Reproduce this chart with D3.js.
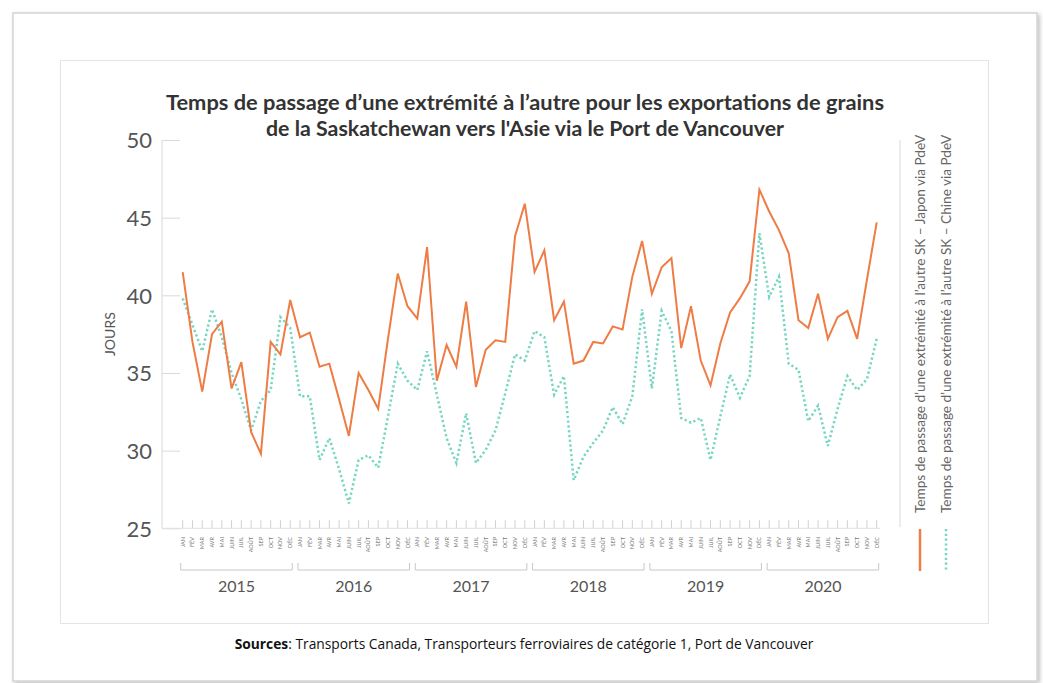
<!DOCTYPE html>
<html>
<head>
<meta charset="utf-8">
<script src="https://cdn.jsdelivr.net/npm/d3@7"></script>
<style>
	body { margin: 0; background: #fff; }
	#chart { width: 1043px; height: 683px; }
	text { font-family: Lato, "Open Sans", sans-serif; }
</style>
</head>
<body>
<div id="chart"></div>
<script>
// data
const years = ["2015", "2016", "2017", "2018", "2019", "2020"];
const months = ["JAN", "FÉV", "MAR", "AVR", "MAI", "JUIN", "JUIL", "AOÛT", "SEP", "OCT", "NOV", "DÉC"];
const yTicks = [25, 30, 35, 40, 45, 50];
const japon = [
	41.5, 37.0, 33.8, 37.5, 38.3, 34.0, 35.7, 31.2, 29.8, 37.0, 36.2, 39.7,
	37.3, 37.6, 35.4, 35.6, 33.3, 30.95, 35.0, 33.9, 32.7, 37.2, 41.4, 39.3,
	38.5, 43.1, 34.5, 36.8, 35.4, 39.6, 34.1, 36.5, 37.1, 37.0, 43.8, 45.9,
	41.5, 42.9, 38.4, 39.6, 35.6, 35.8, 37.0, 36.9, 38.0, 37.8, 41.2, 43.5,
	40.1, 41.8, 42.4, 36.6, 39.3, 35.8, 34.2, 36.9, 38.9, 39.8, 40.9, 46.8,
	45.4, 44.2, 42.7, 38.4, 37.9, 40.1, 37.2, 38.6, 39.0, 37.2, 41.0, 44.7
];
const chine = [
	39.8, 38.1, 36.4, 39.1, 37.3, 35.0, 33.3, 31.3, 33.2, 33.9, 38.6, 37.9,
	33.5, 33.5, 29.4, 30.8, 28.8, 26.6, 29.4, 29.7, 28.9, 32.2, 35.6, 34.5,
	33.9, 36.4, 33.6, 30.8, 29.2, 32.4, 29.2, 30.05, 31.3, 33.7, 36.2, 35.8,
	37.7, 37.3, 33.6, 34.8, 28.1, 29.6, 30.5, 31.3, 32.8, 31.7, 33.5, 39.1,
	34.0, 39.0, 37.7, 32.1, 31.8, 32.1, 29.4, 32.2, 34.9, 33.4, 34.8, 44.0,
	39.9, 41.2, 35.6, 35.2, 31.9, 32.9, 30.3, 32.7, 34.8, 33.9, 34.6, 37.2
];
const legendLabels = [
	"Temps de passage d\u2019une extrémité à l\u2019autre SK \u2013 Japon via PdeV",
	"Temps de passage d\u2019une extrémité à l\u2019autre SK \u2013 Chine via PdeV"
];

const width = 1043;
const height = 683;
const orange = "#ee7c45";
const teal = "#74d6c1";

const svg = d3.select("#chart")
	.append("svg")
	.attr("width", width)
	.attr("height", height);

// shadow filter for frames
const defs = svg.append("defs");
const f = defs.append("filter").attr("id", "shadow")
	.attr("x", "-5%").attr("y", "-5%").attr("width", "110%").attr("height", "110%");
f.append("feDropShadow").attr("dx", 2).attr("dy", 2).attr("stdDeviation", 2)
	.attr("flood-color", "#000").attr("flood-opacity", 0.25);

// outer frame
svg.append("rect")
	.attr("x", 13).attr("y", 13)
	.attr("width", 1024).attr("height", 668)
	.attr("fill", "#fff")
	.attr("stroke", "#d4d4d4")
	.attr("stroke-width", 1.5)
	.attr("filter", "url(#shadow)");

// inner chart box
svg.append("rect")
	.attr("x", 60.5).attr("y", 60.5)
	.attr("width", 928).attr("height", 563)
	.attr("fill", "#fff")
	.attr("stroke", "#e4e4e4")
	.attr("stroke-width", 1);

// scales
const n = japon.length;
const xScale = d3.scaleLinear()
	.domain([0, n - 1])
	.range([182.7, 876.7]);

const yScale = d3.scaleLinear()
	.domain([25, 50])
	.range([528.3, 140]);

// title
const title = svg.append("text")
	.attr("text-anchor", "middle")
	.attr("font-weight", "bold")
	.attr("font-size", 21)
	.attr("fill", "#333");
title.append("tspan").attr("x", 525).attr("y", 110)
	.attr("textLength", 718).attr("lengthAdjust", "spacingAndGlyphs")
	.text("Temps de passage d\u2019une extrémité à l\u2019autre pour les exportations de grains");
title.append("tspan").attr("x", 525).attr("y", 136)
	.attr("textLength", 518).attr("lengthAdjust", "spacingAndGlyphs")
	.text("de la Saskatchewan vers l'Asie via le Port de Vancouver");

// y axis
const yAxis = d3.axisLeft(yScale).tickValues(yTicks).tickSize(18).tickPadding(10);
const gy = svg.append("g")
	.attr("transform", "translate(180, 0)")
	.call(yAxis);
gy.select(".domain").remove();
gy.selectAll(".tick line").attr("stroke", "#d9d9d9");
gy.selectAll(".tick text")
	.attr("font-size", 22)
	.attr("font-family", "Lato, sans-serif")
	.attr("fill", "#555")
	.attr("dy", "0.35em");
svg.append("line")
	.attr("x1", 162).attr("x2", 162)
	.attr("y1", yScale(50)).attr("y2", yScale(25))
	.attr("stroke", "#d9d9d9");

svg.append("text")
	.attr("transform", `translate(115, ${yScale(37.5)}) rotate(-90)`)
	.attr("text-anchor", "middle")
	.attr("font-size", 14)
	.attr("fill", "#555")
	.text("JOURS");

// x axis: month ticks
svg.append("line")
	.attr("x1", 162).attr("x2", 880)
	.attr("y1", yScale(25)).attr("y2", yScale(25))
	.attr("stroke", "#e0e0e0");

const idx = d3.range(n);
svg.append("g").selectAll("line")
	.data(idx)
	.join("line")
	.attr("x1", (d) => xScale(d))
	.attr("x2", (d) => xScale(d))
	.attr("y1", yScale(25) - 8)
	.attr("y2", yScale(25))
	.attr("stroke", "#d0d0d0");

svg.append("g").selectAll("text")
	.data(idx)
	.join("text")
	.attr("transform", (d) => `translate(${xScale(d) + 2}, 537) rotate(-90)`)
	.attr("text-anchor", "end")
	.attr("font-size", 5.5)
	.attr("fill", "#777")
	.text((d) => months[d % 12]);

// year brackets
years.forEach((yr, i) => {
	const x0 = xScale(i * 12) - 2;
	const x1 = xScale(i * 12 + 11) + 2;
	svg.append("path")
		.attr("d", `M${x0},563V570H${x1}V563`)
		.attr("fill", "none")
		.attr("stroke", "#c8c8c8");
	svg.append("text")
		.attr("x", (x0 + x1) / 2)
		.attr("y", 592)
		.attr("text-anchor", "middle")
		.attr("font-size", 16)
		.attr("fill", "#555")
		.text(yr);
});

// lines
const line = d3.line()
	.x((d, i) => xScale(i))
	.y((d) => yScale(d));

svg.append("path")
	.datum(chine)
	.attr("d", line)
	.attr("fill", "none")
	.attr("stroke", teal)
	.attr("stroke-width", 2.5)
	.attr("stroke-dasharray", "2.2,2.6");

svg.append("path")
	.datum(japon)
	.attr("d", line)
	.attr("fill", "none")
	.attr("stroke", orange)
	.attr("stroke-width", 2)
	.attr("stroke-linejoin", "miter");

// legend
svg.append("line")
	.attr("x1", 900).attr("x2", 900)
	.attr("y1", 140).attr("y2", 527)
	.attr("stroke", "#d9d9d9");

const legendColors = [orange, teal];
legendLabels.forEach((lab, i) => {
	const lx = 920 + i * 26;
	svg.append("line")
		.attr("x1", lx).attr("x2", lx)
		.attr("y1", 529).attr("y2", 571)
		.attr("stroke", legendColors[i])
		.attr("stroke-width", 2.5)
		.attr("stroke-dasharray", i === 0 ? null : "2.2,2.6");
	svg.append("text")
		.attr("transform", `translate(${lx + 5}, 513) rotate(-90)`)
		.attr("font-size", 13.6)
		.attr("fill", "#666")
		.text(lab);
});

// source
const src = svg.append("text")
	.attr("x", 524)
	.attr("y", 649)
	.attr("text-anchor", "middle")
	.attr("font-size", 13.8)
	.attr("fill", "#111")
	.style("font-family", "'Open Sans', sans-serif");
src.append("tspan").attr("font-weight", "bold").text("Sources");
src.append("tspan").text(": Transports Canada, Transporteurs ferroviaires de catégorie 1, Port de Vancouver");
</script>
</body>
</html>
